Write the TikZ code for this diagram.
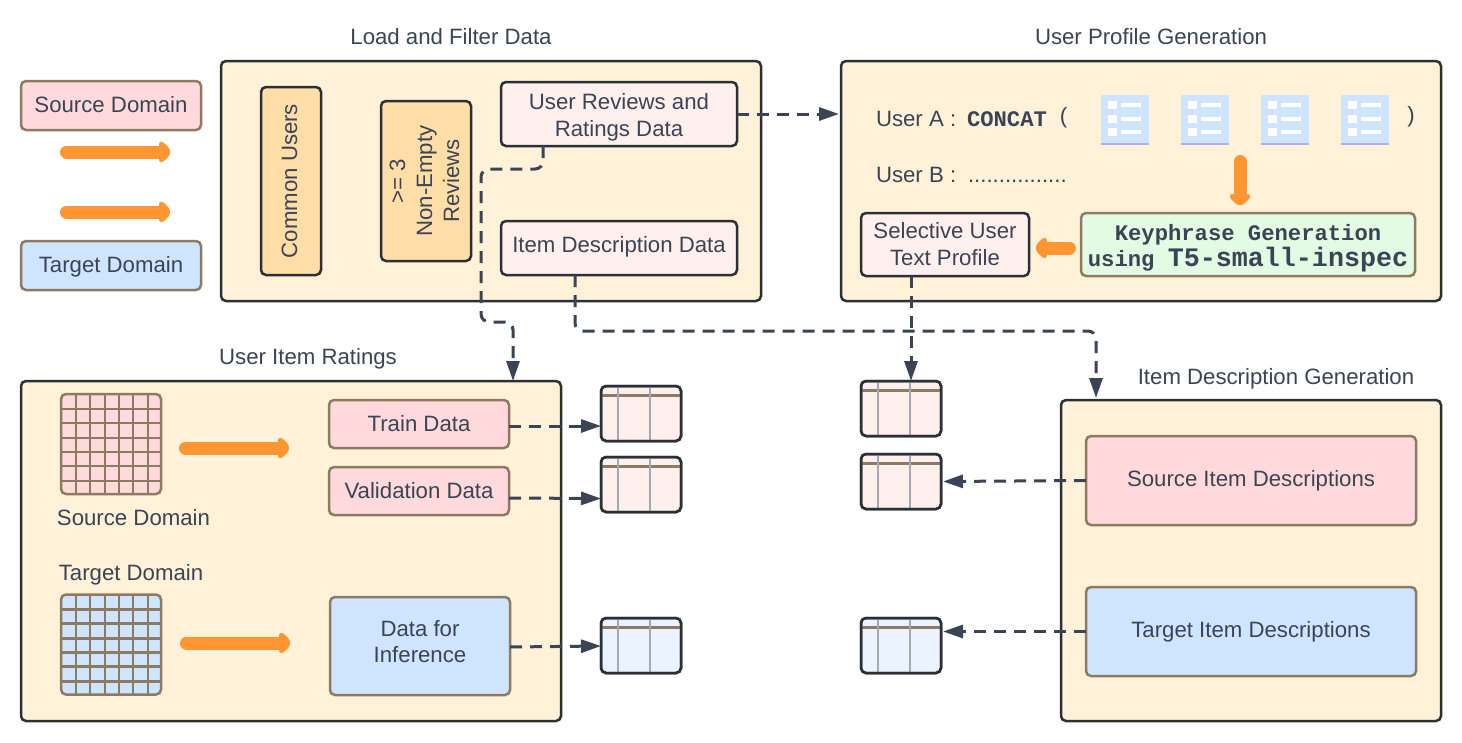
\documentclass[tikz,border=0pt]{standalone}
\usepackage{fontspec}
\setmainfont{Liberation Sans}
\setmonofont{Liberation Mono}
\usetikzlibrary{arrows.meta,calc}
\definecolor{ink}{HTML}{3A4454}
\definecolor{edge}{HTML}{2B3037}
\definecolor{tan}{HTML}{8C7B62}
\definecolor{cream}{HTML}{FFF2D9}
\definecolor{amber}{HTML}{FFDDA6}
\definecolor{blush}{HTML}{FFF0EE}
\definecolor{rosy}{HTML}{FFD9DC}
\definecolor{sky}{HTML}{CFE4FF}
\definecolor{palesky}{HTML}{EAF3FF}
\definecolor{mint}{HTML}{E3FAE3}
\definecolor{orng}{HTML}{FF9632}
\definecolor{tblrule}{HTML}{A3A8B3}
\definecolor{iconline}{HTML}{ABB2F2}
\tikzset{
  every node/.style={text=ink,font=\fontsize{22.2}{27}\selectfont,align=center,inner sep=0pt,outer sep=0pt},
  boxbase/.style={draw,line width=2.5pt,rounded corners=5pt},
  panel/.style={boxbase,draw=edge,fill=cream},
  darkbox/.style={boxbase,draw=edge,fill=blush},
  amberbox/.style={boxbase,draw=edge,fill=amber},
  srcbox/.style={boxbase,draw=tan,fill=rosy},
  tgtbox/.style={boxbase,draw=tan,fill=sky},
  keybox/.style={boxbase,draw=tan,fill=mint},
  conn/.style={draw=ink,line width=3pt,dash pattern=on 12pt off 8pt,rounded corners=8pt,-{Triangle[length=20pt,width=13pt,fill=ink]}},
}
% [text offset, positive = down], name, x0, y0, x1, y1, style, text
\newcommand\bx[8][0]{%
  \node[#7,minimum width=#5pt-#3pt,minimum height=#6pt-#4pt] (#2) at ({(#3+#5)/2},{(#4+#6)/2}) {};
  \node (#2label) at ($(#2.center)+(0,#1)$) {#8};}
\newcommand\oarrow[4]{\begin{scope}[shift={(#1,#2)},rotate=#3]
  \draw[orng,line width=13pt,line cap=round] (6.5,0) -- (#4-9,0);
  \fill[orng,rounded corners=2.5pt] (#4-11,-10.2) -- (#4-7,-10.2) -- (#4,-3) -- (#4,3) -- (#4-7,10.2) -- (#4-11,10.2) -- cycle;
\end{scope}}
% table: name x0 y0 fill
\newcommand\tbl[4]{%
  \node[boxbase,draw=edge,fill=#4,minimum width=80pt,minimum height=55pt] (#1) at (#2+40,#3+27.5) {};
  \draw[tan,line width=2.5pt] (#2,#3+9.5) -- (#2+80,#3+9.5);
  \draw[tblrule,line width=2.5pt] (#2+17,#3) -- (#2+17,#3+55) (#2+49,#3) -- (#2+49,#3+55);
  \draw[edge,line width=2.5pt,rounded corners=5pt] (#2,#3) rectangle (#2+80,#3+55);
}
% grid: name x0 y0 fill
\newcommand\grd[4]{%
  \node[boxbase,draw=tan,fill=#4,minimum width=100pt,minimum height=100pt] (#1) at (#2+50,#3+50) {};
  \foreach \k in {15,29,44,58,72,87}{
    \draw[tan,line width=2.5pt] (#2+\k,#3) -- (#2+\k,#3+100);
    \draw[tan,line width=2.5pt] (#2,#3+\k) -- (#2+100,#3+\k);
  }
}
\newcommand\docicon[1]{\begin{scope}[shift={(#1,95)}]
  \fill[sky] (0,0) rectangle (48,49);
  \fill[iconline] (0,48) rectangle (48,50);
  \foreach \yy in {10,24,37}{
    \fill[white] (7,\yy-3.8) rectangle (15.5,\yy+3.8);
    \fill[white] (20,\yy-1.6) rectangle (40,\yy+1.6);
  }
\end{scope}}
\begin{document}
\begin{tikzpicture}[x=1pt,y=-1pt]
\useasboundingbox (0,0) rectangle (1462,742);
\fill[white] (0,0) rectangle (1462,742);
% legend
\bx[-1]{legsrc}{21}{81}{201}{130}{srcbox}{Source Domain}
\bx[1]{legtgt}{21}{241}{201}{290}{tgtbox}{Target Domain}
\oarrow{60}{152}{0}{110}
\oarrow{60}{212}{0}{110}
% panels
\bx{load}{221}{61}{761}{301}{panel}{}
\bx{profile}{841}{61}{1441}{301}{panel}{}
\bx{ratings}{21}{381}{561}{721}{panel}{}
\bx{itemgen}{1061}{400}{1441}{721}{panel}{}
% titles
\node (tload) at (451,36.5) {Load and Filter Data};
\node (tprofile) at (1151,36.5) {User Profile Generation};
\node (tratings) at (308,359) {User Item Ratings};
\node (titemgen) at (1276,379) {Item Description Generation};
% load panel
\node[amberbox,rotate=90,minimum width=188pt,minimum height=60pt] (common) at (291,181) {};
\node[rotate=90] (commonlabel) at (289.5,181) {Common Users};
\node[amberbox,rotate=90,minimum width=160pt,minimum height=90pt] (nonempty) at (426,181) {};
\node[rotate=90] (nonemptylabel) at (424.5,181) {>= 3\\Non-Empty\\Reviews};
\bx[3]{reviews}{501}{82}{737}{146}{darkbox}{User Reviews and\\Ratings Data}
\bx[-1]{itemdata}{501}{221}{737}{275}{darkbox}{Item Description Data}
% profile panel
\node[anchor=west] (usera) at (876,118.5) {User A :};
\node[anchor=west,font=\fontsize{22.2}{27}\selectfont\ttfamily\bfseries] (concat) at (967,119) {CONCAT};
\node (po) at (1063.5,118) {(};
\docicon{1101}\docicon{1181}\docicon{1261}\docicon{1341}
\node (pc) at (1411,117) {)};
\node[anchor=west] (userb) at (876,175) {User B :};
\node[anchor=west] (dots) at (968,181.5) {................};
\bx[3.5]{keyphrase}{1081}{213}{1415}{276}{keybox}{\ttfamily\bfseries Keyphrase Generation\\[-1pt]\ttfamily\bfseries using {\fontsize{26.7}{27}\selectfont T5-small-inspec}}
\bx[0]{selective}{861}{213}{1029}{276}{darkbox}{Selective User\\Text Profile}
\oarrow{1240}{155}{-90}{50}
\oarrow{1076}{248}{180}{40}
% ratings panel
\grd{gridsrc}{61}{394}{rosy}
\grd{gridtgt}{61}{594.5}{sky}
\node (lsrc) at (133.5,517.5) {Source Domain};
\node (ltgt) at (131,574.5) {Target Domain};
\oarrow{179}{448}{0}{110}
\oarrow{180}{643}{0}{110}
\bx{train}{329}{400}{509}{448}{srcbox}{Train Data}
\bx{valid}{329}{467}{509}{515}{srcbox}{Validation Data}
\bx[-4.5]{infer}{330}{597}{510}{695}{tgtbox}{Data for\\[-0.5pt]Inference}
% item generation panel
\bx{srcitem}{1086}{436}{1416}{525}{srcbox}{Source Item Descriptions}
\bx{tgtitem}{1086}{587}{1416}{676}{tgtbox}{Target Item Descriptions}
% tables
\tbl{ta}{601}{386}{blush}
\tbl{tb}{601}{457}{blush}
\tbl{tc}{601}{618}{palesky}
\tbl{td}{861}{381}{blush}
\tbl{te}{861}{454}{blush}
\tbl{tf}{861}{618}{palesky}
% connectors
\draw[conn] (reviews.east) -- ([xshift=-2pt]reviews.east -| profile.west);
\draw[conn] ([xshift=-76pt]reviews.south) -- ++(0,23) -- ++(-62,0) -- ++(0,153) -- ++(32,0) -- ([xshift=222pt]ratings.north);
\draw[conn] ([xshift=-44pt]itemdata.south) -- ++(0,56) -- ++(521,0) -- ([xshift=-155pt,yshift=2pt]itemgen.north);
\draw[conn] ([yshift=-2pt]train.east) -- ([yshift=-12.5pt]ta.west);
\draw[conn] ([yshift=-7pt]valid.east) -- ([yshift=-14pt]tb.west);
\draw[conn] ([yshift=-1pt]infer.east) -- ([yshift=-0.5pt]tc.west);
\draw[conn] ([xshift=-34pt]selective.south) -- ([xshift=10pt]td.north);
\draw[conn] (srcitem.west) -- ([xshift=2pt]te.east);
\draw[conn] (tgtitem.west) -- ([xshift=2pt]tf.east |- tgtitem.west);
\end{tikzpicture}
\end{document}
